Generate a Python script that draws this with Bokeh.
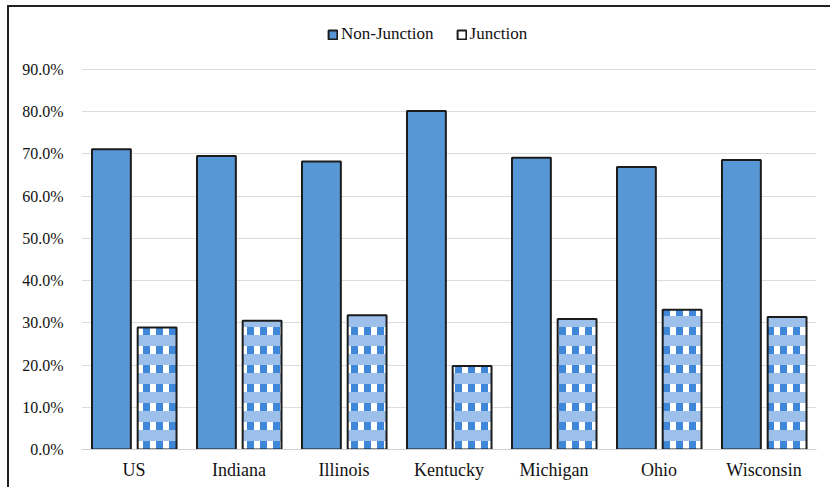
from bokeh.plotting import figure
from bokeh.models import (ColumnDataSource, FactorRange, Range1d, NumeralTickFormatter,
                          FixedTicker, Legend, LegendItem)
from bokeh.transform import dodge
from bokeh.embed import file_html
from bokeh.resources import INLINE

# Share of crashes by location type (percent)
states = ["US", "Indiana", "Illinois", "Kentucky", "Michigan", "Ohio", "Wisconsin"]
non_junction = [71.1, 69.5, 68.2, 80.2, 69.1, 66.9, 68.6]
junction = [28.9, 30.5, 31.8, 19.8, 30.9, 33.1, 31.4]
y_ticks = [0.0, 0.1, 0.2, 0.3, 0.4, 0.5, 0.6, 0.7, 0.8, 0.9]

src = ColumnDataSource(dict(
    state=states,
    nj=[v / 100 for v in non_junction],
    j=[v / 100 for v in junction],
))

FONT = "Liberation Serif"
BLUE = "#5797d6"
EDGE = "#1c1c1c"

# Range extends past 90% to leave room for the legend inside the frame
p = figure(width=823, height=482, x_range=FactorRange(*states), y_range=Range1d(0, 1.028),
           output_backend="svg", toolbar_location=None,
           min_border_left=72, min_border_right=16, min_border_top=8, min_border_bottom=40)
p.styles = {"margin-left": "7px", "margin-top": "5px",
            "border-left": "2px solid #222", "border-top": "2px solid #222"}
p.x_range.range_padding = 0
p.outline_line_color = None
p.background_fill_color = "white"
p.border_fill_color = "white"

# Non-junction bars
nj_r = p.vbar(x=dodge("state", -0.215, range=p.x_range), top="nj", width=0.37, source=src,
              fill_color=BLUE, line_color=EDGE, line_width=2)

# Junction bars: white base, gingham-like hatching, then outline
xj = dodge("state", 0.22, range=p.x_range)
p.vbar(x=xj, top="j", width=0.37, source=src, fill_color="white", line_color=None)
p.vbar(x=xj, top="j", width=0.37, source=src, fill_alpha=0, line_color=None,
       hatch_pattern="vertical_line", hatch_color="#3f87d8", hatch_weight=7, hatch_scale=13)
p.vbar(x=xj, top="j", width=0.37, source=src, fill_alpha=0, line_color=None,
       hatch_pattern="horizontal_line", hatch_color="#9dc0ea", hatch_weight=11, hatch_scale=19)
j_r = p.vbar(x=xj, top="j", width=0.37, source=src, fill_color="white", fill_alpha=0,
             line_color=EDGE, line_width=2)

# Axes
p.yaxis.ticker = FixedTicker(ticks=y_ticks)
p.yaxis.formatter = NumeralTickFormatter(format="0.0%")
p.yaxis.axis_line_color = None
p.yaxis.major_tick_line_color = None
p.yaxis.minor_tick_line_color = None
p.yaxis.major_label_standoff = 12
p.yaxis.major_label_text_font = FONT
p.yaxis.major_label_text_font_size = "16px"
p.yaxis.major_label_text_color = "#111111"

p.xaxis.axis_line_color = "#d0d0d0"
p.xaxis.major_tick_line_color = None
p.xaxis.minor_tick_line_color = None
p.xaxis.major_label_standoff = 4
p.xaxis.major_label_text_font = FONT
p.xaxis.major_label_text_font_size = "18px"
p.xaxis.major_label_text_color = "#111111"

p.xgrid.grid_line_color = None
p.ygrid.grid_line_color = "#dcdcdc"
p.ygrid.grid_line_width = 1

legend = Legend(items=[LegendItem(label="Non-Junction", renderers=[nj_r]),
                       LegendItem(label="Junction", renderers=[j_r])],
                orientation="horizontal", location=(246, 405),
                label_text_font=FONT, label_text_font_size="17px", label_text_color="#111111",
                glyph_width=11, glyph_height=11, label_standoff=3, spacing=22,
                padding=2, margin=0, border_line_color=None, background_fill_alpha=0)
p.add_layout(legend, "center")

open("out.html", "w").write(file_html(p, INLINE))
